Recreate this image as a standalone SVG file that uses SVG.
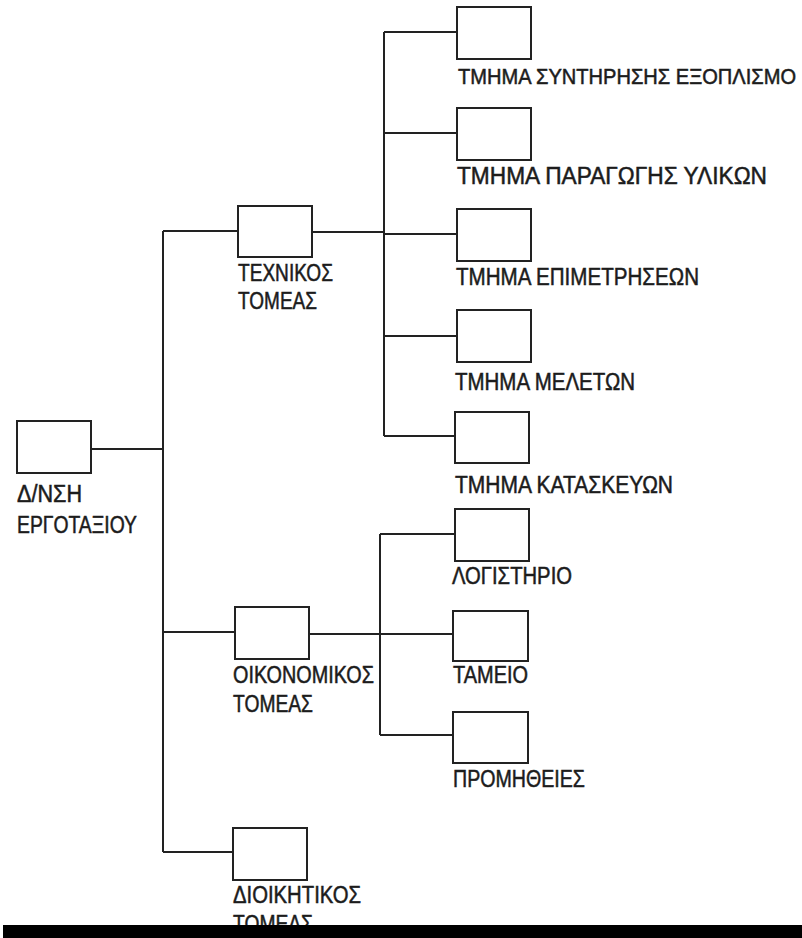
<svg xmlns="http://www.w3.org/2000/svg" width="802" height="938" viewBox="0 0 802 938">
<style>
.box{fill:#fff;stroke:#222;stroke-width:2}
.ln{stroke:#222;stroke-width:2;fill:none}
text{font-family:"Liberation Sans","DejaVu Sans",sans-serif;font-size:23px;fill:#1c1c1c;stroke:#1c1c1c;stroke-width:0.5}
</style>
<rect width="802" height="938" fill="#fff"/>
<g id="connectors">
<path class="ln" d="M91,449H163M163,231V852M163,231H238M163,632H235M163,852H233"/>
<path class="ln" d="M312,232H384M384,32V436M384,32H457M384,133H457M384,234H457M384,336H457M384,436H455"/>
<path class="ln" d="M309,634H453M380,534V735M380,534H455M380,735H453"/>
</g>
<g id="root"><rect class="box" x="17" y="421" width="74" height="52"/><text x="17" y="502" textLength="65" lengthAdjust="spacingAndGlyphs">Δ/ΝΣΗ</text><text x="17" y="533" textLength="120" lengthAdjust="spacingAndGlyphs">ΕΡΓΟΤΑΞΙΟΥ</text></g>
<g id="tech"><rect class="box" x="238" y="206" width="74" height="51"/><text x="238" y="281" textLength="95" lengthAdjust="spacingAndGlyphs">ΤΕΧΝΙΚΟΣ</text><text x="238" y="309" textLength="79" lengthAdjust="spacingAndGlyphs">ΤΟΜΕΑΣ</text></g>
<g id="d1"><rect class="box" x="457" y="7" width="74" height="52"/><text transform="translate(458,84) scale(1,1.2)" x="0" y="0" style="font-size:19px;stroke-width:0.45" textLength="338" lengthAdjust="spacingAndGlyphs">ΤΜΗΜΑ ΣΥΝΤΗΡΗΣΗΣ ΕΞΟΠΛΙΣΜΟ</text></g>
<g id="d2"><rect class="box" x="457" y="108" width="74" height="52"/><text x="457" y="184" textLength="310" lengthAdjust="spacingAndGlyphs">ΤΜΗΜΑ ΠΑΡΑΓΩΓΗΣ ΥΛΙΚΩΝ</text></g>
<g id="d3"><rect class="box" x="457" y="209" width="74" height="52"/><text x="456" y="285" textLength="243" lengthAdjust="spacingAndGlyphs">ΤΜΗΜΑ ΕΠΙΜΕΤΡΗΣΕΩΝ</text></g>
<g id="d4"><rect class="box" x="457" y="310" width="74" height="52"/><text x="455" y="390" textLength="180" lengthAdjust="spacingAndGlyphs">ΤΜΗΜΑ ΜΕΛΕΤΩΝ</text></g>
<g id="d5"><rect class="box" x="455" y="412" width="74" height="51"/><text x="455" y="493" textLength="218" lengthAdjust="spacingAndGlyphs">ΤΜΗΜΑ ΚΑΤΑΣΚΕΥΩΝ</text></g>
<g id="econ"><rect class="box" x="235" y="607" width="74" height="52"/><text x="233" y="683" textLength="141" lengthAdjust="spacingAndGlyphs">ΟΙΚΟΝΟΜΙΚΟΣ</text><text x="233" y="712" textLength="80" lengthAdjust="spacingAndGlyphs">ΤΟΜΕΑΣ</text></g>
<g id="e1"><rect class="box" x="455" y="509" width="74" height="52"/><text x="452" y="584" textLength="120" lengthAdjust="spacingAndGlyphs">ΛΟΓΙΣΤΗΡΙΟ</text></g>
<g id="e2"><rect class="box" x="453" y="611" width="75" height="50"/><text x="453" y="683" textLength="75" lengthAdjust="spacingAndGlyphs">ΤΑΜΕΙΟ</text></g>
<g id="e3"><rect class="box" x="453" y="712" width="75" height="51"/><text x="453" y="787" textLength="132" lengthAdjust="spacingAndGlyphs">ΠΡΟΜΗΘΕΙΕΣ</text></g>
<g id="admin"><rect class="box" x="233" y="828" width="74" height="52"/><text x="233" y="903" textLength="128" lengthAdjust="spacingAndGlyphs">ΔΙΟΙΚΗΤΙΚΟΣ</text><text x="233" y="932" textLength="80" lengthAdjust="spacingAndGlyphs">ΤΟΜΕΑΣ</text></g>
<rect x="3" y="925" width="799" height="13" fill="#000"/>
</svg>
